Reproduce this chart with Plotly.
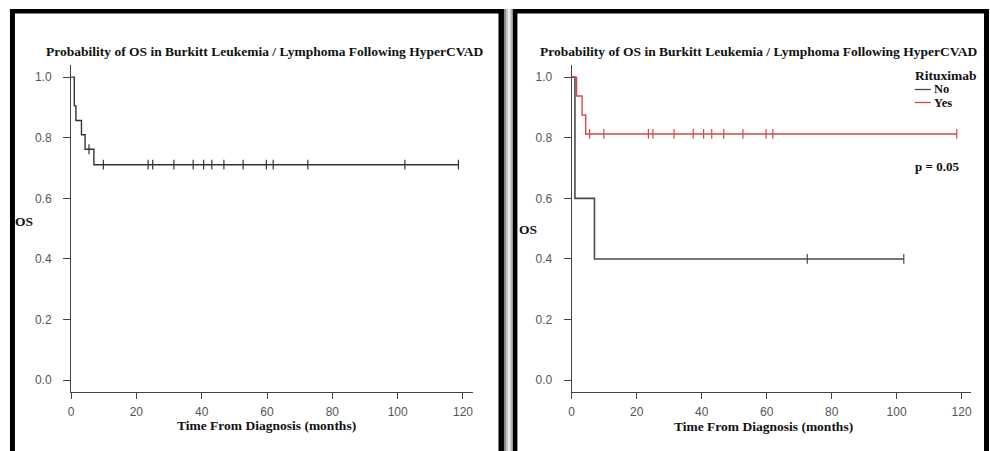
import numpy as np
import plotly.graph_objects as go

W, H = 990, 451

# ---------------- data ----------------
# Overall OS (left panel): step times (months) and survival level after each step
all_step_t = [0, 1.0, 1.5, 3.2, 4.3, 7.0, 118.6]
all_step_s = [1.0, 0.905, 0.857, 0.810, 0.762, 0.711, 0.711]
all_cens_t = [5.5, 9.9, 23.6, 25.0, 31.5, 37.4, 40.6, 43.1, 46.8, 52.7,
              59.8, 61.9, 72.5, 102.2, 118.6]

# Rituximab = No
no_step_t = [0, 1.0, 7.0, 102.2]
no_step_s = [1.0, 0.6, 0.4, 0.4]
no_cens_t = [72.5, 102.2]

# Rituximab = Yes
yes_step_t = [0, 1.5, 3.2, 4.3, 118.5]
yes_step_s = [1.0, 0.9375, 0.875, 0.8125, 0.8125]
yes_cens_t = [5.5, 9.9, 23.6, 25.0, 31.5, 37.4, 40.6, 43.1, 46.8, 52.7,
              59.8, 61.9, 118.5]

x_ticks = [0, 20, 40, 60, 80, 100, 120]
y_ticks = [0.0, 0.2, 0.4, 0.6, 0.8, 1.0]
title_text = "Probability of OS in Burkitt Leukemia / Lymphoma Following HyperCVAD"
xlab = "Time From Diagnosis (months)"
ylab = "OS"
legend_title = "Rituximab"
legend_names = ["No", "Yes"]
p_text = "p = 0.05"


def level_at(ts, ss, times):
    ts = np.asarray(ts)
    idx = np.searchsorted(ts, np.asarray(times), side="right") - 1
    return [ss[i] for i in idx]


def px(x):
    return x / W


def py(y):
    return 1 - y / H


SERIF = "Liberation Serif"
SANS = "Liberation Sans"
C_ALL = "#333333"
C_NO = "#4a4a4a"
C_YES = "#d44848"

fig = go.Figure()


def add_curve(ts, ss, cens, color, xa, ya, width=1.4):
    fig.add_trace(go.Scatter(x=ts, y=ss, mode="lines", line=dict(color=color, width=width, shape="hv"),
                             xaxis=xa, yaxis=ya, showlegend=False, hoverinfo="skip"))
    fig.add_trace(go.Scatter(x=cens, y=level_at(ts, ss, cens), mode="markers",
                             marker=dict(symbol="line-ns-open", size=7, color=color,
                                         line=dict(color=color, width=1.2)),
                             xaxis=xa, yaxis=ya, showlegend=False, hoverinfo="skip"))


add_curve(all_step_t, all_step_s, all_cens_t, C_ALL, "x", "y")
add_curve(no_step_t, no_step_s, no_cens_t, C_NO, "x2", "y2", width=1.6)
add_curve(yes_step_t, yes_step_s, yes_cens_t, C_YES, "x2", "y2")

axis_common = dict(showline=True, linecolor="#444", linewidth=1, ticks="outside", tickcolor="#444",
                   ticklen=6, tickwidth=1, showgrid=False, zeroline=False,
                   tickfont=dict(family=SANS, size=12, color="#555"))

ydom = [py(392.3), py(65)]
fig.update_layout(
    width=W, height=H, margin=dict(l=0, r=0, t=0, b=0),
    paper_bgcolor="white", plot_bgcolor="white", showlegend=False,
    xaxis=dict(domain=[px(68.3), px(471.7)], range=[0, 123], tickvals=x_ticks, anchor="y",
               ticklabelstandoff=2, **axis_common),
    yaxis=dict(domain=ydom, range=[-0.04, 1.04], tickvals=y_ticks, tickformat=".1f", anchor="x",
               ticklabelstandoff=9, **{**axis_common, "ticklen": 7}),
    xaxis2=dict(domain=[px(571), px(972.3)], range=[0, 123], tickvals=x_ticks, anchor="y2",
                ticklabelstandoff=2, **axis_common),
    yaxis2=dict(domain=ydom, range=[-0.04, 1.04], tickvals=y_ticks, tickformat=".1f", anchor="x2",
                ticklabelstandoff=9, **{**axis_common, "ticklen": 7}),
)

ann = []


def text(x, y, t, size=13, xanchor="center", color="#111", family=SERIF, bold=True):
    ann.append(dict(x=px(x), y=py(y), xref="paper", yref="paper", text=(f"<b>{t}</b>" if bold else t),
                    showarrow=False, xanchor=xanchor, yanchor="middle",
                    font=dict(family=family, size=size, color=color)))


text(262.5, 51.5, title_text, 13.5)
text(758.5, 51.5, title_text, 13.5)
text(265, 425, xlab, 13.5)
text(764, 426, xlab, 13.5)
text(21, 222, ylab, 13.5)
text(527, 229, ylab, 13.5)
text(914, 76, legend_title, 13.5, xanchor="left")
text(933, 89, legend_names[0], 12.5, xanchor="left")
text(933, 102.5, legend_names[1], 12.5, xanchor="left")
text(938, 166, p_text, 13)

shapes = []


def rect(x0, y0, x1, y1, color):
    shapes.append(dict(type="rect", xref="paper", yref="paper", x0=px(x0), x1=px(x1), y0=py(y1), y1=py(y0),
                       fillcolor=color, line=dict(width=0), layer="above"))


# legend glyph lines
shapes.append(dict(type="line", xref="paper", yref="paper", x0=px(915.5), x1=px(931.5), y0=py(89.5), y1=py(89.5),
                   line=dict(color=C_NO, width=1.3)))
shapes.append(dict(type="line", xref="paper", yref="paper", x0=px(915.5), x1=px(931.5), y0=py(102.5), y1=py(102.5),
                   line=dict(color=C_YES, width=1.3)))

# panel frames
rect(7, 9, 503, 13.5, "black")
rect(7, 9, 12, H + 1, "black")
rect(497.5, 9, 503, H + 1, "black")
rect(512, 9, 990, 13.5, "black")
rect(512, 9, 516.5, H + 1, "black")
rect(985, 9, 990, H + 1, "black")
# shadow gradient between the panels
for x0, x1, c in [(503, 505, "#8a8a8a"), (505, 507, "#c4c4c4"), (507, 509, "#eeeeee"),
                  (509, 510.5, "#cfcfcf"), (510.5, 512, "#8f8f8f")]:
    rect(x0, 9, x1, H + 1, c)

fig.update_layout(annotations=ann, shapes=shapes)
fig.write_html("out.html", config={"displayModeBar": False},
               post_script="document.body.style.margin='0';document.body.style.padding='0';"
                           "document.body.style.overflow='hidden';")
